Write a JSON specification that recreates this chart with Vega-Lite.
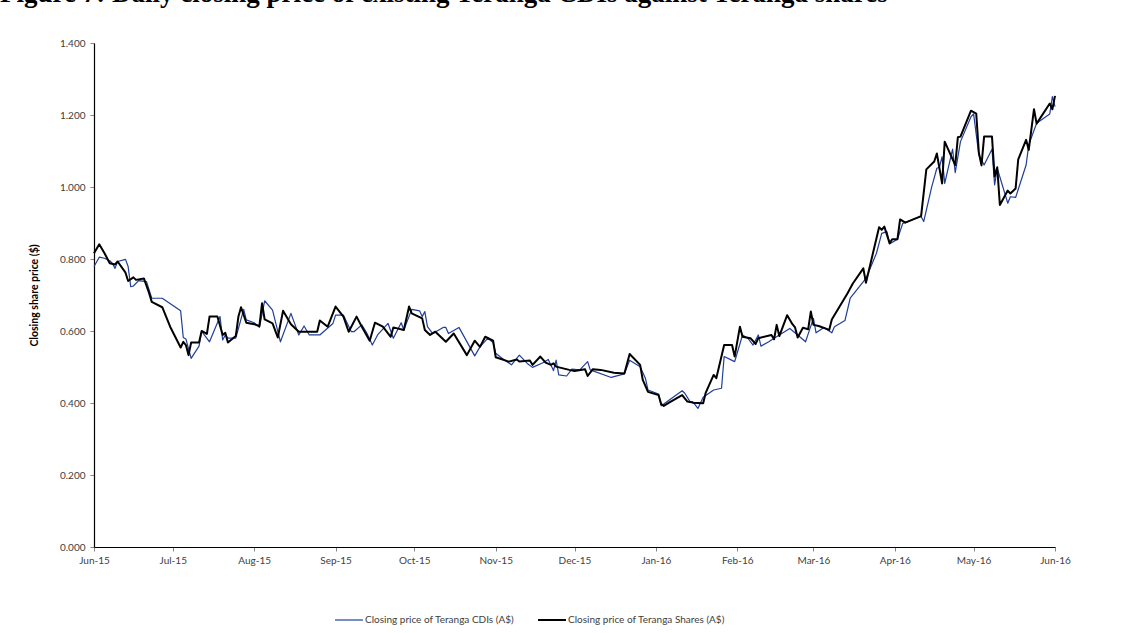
{
  "$schema": "https://vega.github.io/schema/vega-lite/v6.json",
  "autosize": {"type": "none"},
  "width": 961,
  "height": 504,
  "padding": {"left": 94, "top": 43, "right": 80, "bottom": 86},
  "background": "white",
  "title": {
    "text": "Figure 7: Daily closing price of existing Teranga CDIs against Teranga shares",
    "anchor": "start",
    "frame": "group",
    "orient": "top",
    "baseline": "alphabetic",
    "offset": 30,
    "dx": -94,
    "dy": 21,
    "font": "Liberation Serif",
    "fontSize": 27,
    "fontWeight": "bold",
    "color": "#000000"
  },
  "datasets": {
    "prices": [
      {"date": "2015-06-01", "series": "Closing price of Teranga CDIs (A$)", "price": 0.779},
      {"date": "2015-06-03", "series": "Closing price of Teranga CDIs (A$)", "price": 0.805},
      {"date": "2015-06-05", "series": "Closing price of Teranga CDIs (A$)", "price": 0.802},
      {"date": "2015-06-07", "series": "Closing price of Teranga CDIs (A$)", "price": 0.795},
      {"date": "2015-06-08", "series": "Closing price of Teranga CDIs (A$)", "price": 0.788},
      {"date": "2015-06-09", "series": "Closing price of Teranga CDIs (A$)", "price": 0.774},
      {"date": "2015-06-10", "series": "Closing price of Teranga CDIs (A$)", "price": 0.793},
      {"date": "2015-06-13", "series": "Closing price of Teranga CDIs (A$)", "price": 0.799},
      {"date": "2015-06-14", "series": "Closing price of Teranga CDIs (A$)", "price": 0.779},
      {"date": "2015-06-15", "series": "Closing price of Teranga CDIs (A$)", "price": 0.723},
      {"date": "2015-06-16", "series": "Closing price of Teranga CDIs (A$)", "price": 0.725},
      {"date": "2015-06-18", "series": "Closing price of Teranga CDIs (A$)", "price": 0.740},
      {"date": "2015-06-21", "series": "Closing price of Teranga CDIs (A$)", "price": 0.737},
      {"date": "2015-06-23", "series": "Closing price of Teranga CDIs (A$)", "price": 0.691},
      {"date": "2015-06-27", "series": "Closing price of Teranga CDIs (A$)", "price": 0.691},
      {"date": "2015-07-04", "series": "Closing price of Teranga CDIs (A$)", "price": 0.656},
      {"date": "2015-07-05", "series": "Closing price of Teranga CDIs (A$)", "price": 0.582},
      {"date": "2015-07-06", "series": "Closing price of Teranga CDIs (A$)", "price": 0.578},
      {"date": "2015-07-08", "series": "Closing price of Teranga CDIs (A$)", "price": 0.524},
      {"date": "2015-07-11", "series": "Closing price of Teranga CDIs (A$)", "price": 0.558},
      {"date": "2015-07-12", "series": "Closing price of Teranga CDIs (A$)", "price": 0.600},
      {"date": "2015-07-13", "series": "Closing price of Teranga CDIs (A$)", "price": 0.589},
      {"date": "2015-07-15", "series": "Closing price of Teranga CDIs (A$)", "price": 0.570},
      {"date": "2015-07-19", "series": "Closing price of Teranga CDIs (A$)", "price": 0.640},
      {"date": "2015-07-20", "series": "Closing price of Teranga CDIs (A$)", "price": 0.575},
      {"date": "2015-07-21", "series": "Closing price of Teranga CDIs (A$)", "price": 0.589},
      {"date": "2015-07-22", "series": "Closing price of Teranga CDIs (A$)", "price": 0.580},
      {"date": "2015-07-25", "series": "Closing price of Teranga CDIs (A$)", "price": 0.580},
      {"date": "2015-07-28", "series": "Closing price of Teranga CDIs (A$)", "price": 0.660},
      {"date": "2015-07-29", "series": "Closing price of Teranga CDIs (A$)", "price": 0.631},
      {"date": "2015-08-01", "series": "Closing price of Teranga CDIs (A$)", "price": 0.623},
      {"date": "2015-08-03", "series": "Closing price of Teranga CDIs (A$)", "price": 0.610},
      {"date": "2015-08-05", "series": "Closing price of Teranga CDIs (A$)", "price": 0.684},
      {"date": "2015-08-08", "series": "Closing price of Teranga CDIs (A$)", "price": 0.658},
      {"date": "2015-08-11", "series": "Closing price of Teranga CDIs (A$)", "price": 0.570},
      {"date": "2015-08-15", "series": "Closing price of Teranga CDIs (A$)", "price": 0.649},
      {"date": "2015-08-18", "series": "Closing price of Teranga CDIs (A$)", "price": 0.589},
      {"date": "2015-08-20", "series": "Closing price of Teranga CDIs (A$)", "price": 0.614},
      {"date": "2015-08-22", "series": "Closing price of Teranga CDIs (A$)", "price": 0.589},
      {"date": "2015-08-26", "series": "Closing price of Teranga CDIs (A$)", "price": 0.589},
      {"date": "2015-08-31", "series": "Closing price of Teranga CDIs (A$)", "price": 0.621},
      {"date": "2015-09-01", "series": "Closing price of Teranga CDIs (A$)", "price": 0.644},
      {"date": "2015-09-04", "series": "Closing price of Teranga CDIs (A$)", "price": 0.644},
      {"date": "2015-09-07", "series": "Closing price of Teranga CDIs (A$)", "price": 0.598},
      {"date": "2015-09-08", "series": "Closing price of Teranga CDIs (A$)", "price": 0.598},
      {"date": "2015-09-11", "series": "Closing price of Teranga CDIs (A$)", "price": 0.617},
      {"date": "2015-09-13", "series": "Closing price of Teranga CDIs (A$)", "price": 0.593},
      {"date": "2015-09-15", "series": "Closing price of Teranga CDIs (A$)", "price": 0.561},
      {"date": "2015-09-17", "series": "Closing price of Teranga CDIs (A$)", "price": 0.589},
      {"date": "2015-09-21", "series": "Closing price of Teranga CDIs (A$)", "price": 0.621},
      {"date": "2015-09-23", "series": "Closing price of Teranga CDIs (A$)", "price": 0.580},
      {"date": "2015-09-26", "series": "Closing price of Teranga CDIs (A$)", "price": 0.623},
      {"date": "2015-09-27", "series": "Closing price of Teranga CDIs (A$)", "price": 0.603},
      {"date": "2015-09-30", "series": "Closing price of Teranga CDIs (A$)", "price": 0.660},
      {"date": "2015-10-03", "series": "Closing price of Teranga CDIs (A$)", "price": 0.656},
      {"date": "2015-10-04", "series": "Closing price of Teranga CDIs (A$)", "price": 0.640},
      {"date": "2015-10-05", "series": "Closing price of Teranga CDIs (A$)", "price": 0.654},
      {"date": "2015-10-06", "series": "Closing price of Teranga CDIs (A$)", "price": 0.612},
      {"date": "2015-10-08", "series": "Closing price of Teranga CDIs (A$)", "price": 0.593},
      {"date": "2015-10-12", "series": "Closing price of Teranga CDIs (A$)", "price": 0.610},
      {"date": "2015-10-13", "series": "Closing price of Teranga CDIs (A$)", "price": 0.610},
      {"date": "2015-10-14", "series": "Closing price of Teranga CDIs (A$)", "price": 0.593},
      {"date": "2015-10-18", "series": "Closing price of Teranga CDIs (A$)", "price": 0.610},
      {"date": "2015-10-24", "series": "Closing price of Teranga CDIs (A$)", "price": 0.531},
      {"date": "2015-10-26", "series": "Closing price of Teranga CDIs (A$)", "price": 0.556},
      {"date": "2015-10-29", "series": "Closing price of Teranga CDIs (A$)", "price": 0.580},
      {"date": "2015-10-31", "series": "Closing price of Teranga CDIs (A$)", "price": 0.568},
      {"date": "2015-11-01", "series": "Closing price of Teranga CDIs (A$)", "price": 0.538},
      {"date": "2015-11-04", "series": "Closing price of Teranga CDIs (A$)", "price": 0.521},
      {"date": "2015-11-07", "series": "Closing price of Teranga CDIs (A$)", "price": 0.506},
      {"date": "2015-11-10", "series": "Closing price of Teranga CDIs (A$)", "price": 0.533},
      {"date": "2015-11-13", "series": "Closing price of Teranga CDIs (A$)", "price": 0.510},
      {"date": "2015-11-15", "series": "Closing price of Teranga CDIs (A$)", "price": 0.499},
      {"date": "2015-11-19", "series": "Closing price of Teranga CDIs (A$)", "price": 0.512},
      {"date": "2015-11-21", "series": "Closing price of Teranga CDIs (A$)", "price": 0.521},
      {"date": "2015-11-23", "series": "Closing price of Teranga CDIs (A$)", "price": 0.490},
      {"date": "2015-11-24", "series": "Closing price of Teranga CDIs (A$)", "price": 0.519},
      {"date": "2015-11-25", "series": "Closing price of Teranga CDIs (A$)", "price": 0.478},
      {"date": "2015-11-28", "series": "Closing price of Teranga CDIs (A$)", "price": 0.475},
      {"date": "2015-11-30", "series": "Closing price of Teranga CDIs (A$)", "price": 0.494},
      {"date": "2015-12-03", "series": "Closing price of Teranga CDIs (A$)", "price": 0.492},
      {"date": "2015-12-06", "series": "Closing price of Teranga CDIs (A$)", "price": 0.515},
      {"date": "2015-12-07", "series": "Closing price of Teranga CDIs (A$)", "price": 0.492},
      {"date": "2015-12-15", "series": "Closing price of Teranga CDIs (A$)", "price": 0.471},
      {"date": "2015-12-20", "series": "Closing price of Teranga CDIs (A$)", "price": 0.481},
      {"date": "2015-12-22", "series": "Closing price of Teranga CDIs (A$)", "price": 0.519},
      {"date": "2015-12-26", "series": "Closing price of Teranga CDIs (A$)", "price": 0.501},
      {"date": "2015-12-28", "series": "Closing price of Teranga CDIs (A$)", "price": 0.469},
      {"date": "2015-12-29", "series": "Closing price of Teranga CDIs (A$)", "price": 0.436},
      {"date": "2016-01-02", "series": "Closing price of Teranga CDIs (A$)", "price": 0.425},
      {"date": "2016-01-03", "series": "Closing price of Teranga CDIs (A$)", "price": 0.392},
      {"date": "2016-01-04", "series": "Closing price of Teranga CDIs (A$)", "price": 0.397},
      {"date": "2016-01-11", "series": "Closing price of Teranga CDIs (A$)", "price": 0.434},
      {"date": "2016-01-12", "series": "Closing price of Teranga CDIs (A$)", "price": 0.427},
      {"date": "2016-01-14", "series": "Closing price of Teranga CDIs (A$)", "price": 0.404},
      {"date": "2016-01-15", "series": "Closing price of Teranga CDIs (A$)", "price": 0.404},
      {"date": "2016-01-17", "series": "Closing price of Teranga CDIs (A$)", "price": 0.385},
      {"date": "2016-01-19", "series": "Closing price of Teranga CDIs (A$)", "price": 0.416},
      {"date": "2016-01-23", "series": "Closing price of Teranga CDIs (A$)", "price": 0.436},
      {"date": "2016-01-26", "series": "Closing price of Teranga CDIs (A$)", "price": 0.441},
      {"date": "2016-01-27", "series": "Closing price of Teranga CDIs (A$)", "price": 0.529},
      {"date": "2016-01-31", "series": "Closing price of Teranga CDIs (A$)", "price": 0.515},
      {"date": "2016-02-03", "series": "Closing price of Teranga CDIs (A$)", "price": 0.589},
      {"date": "2016-02-05", "series": "Closing price of Teranga CDIs (A$)", "price": 0.580},
      {"date": "2016-02-07", "series": "Closing price of Teranga CDIs (A$)", "price": 0.561},
      {"date": "2016-02-09", "series": "Closing price of Teranga CDIs (A$)", "price": 0.589},
      {"date": "2016-02-10", "series": "Closing price of Teranga CDIs (A$)", "price": 0.558},
      {"date": "2016-02-13", "series": "Closing price of Teranga CDIs (A$)", "price": 0.570},
      {"date": "2016-02-15", "series": "Closing price of Teranga CDIs (A$)", "price": 0.580},
      {"date": "2016-02-17", "series": "Closing price of Teranga CDIs (A$)", "price": 0.589},
      {"date": "2016-02-21", "series": "Closing price of Teranga CDIs (A$)", "price": 0.607},
      {"date": "2016-02-24", "series": "Closing price of Teranga CDIs (A$)", "price": 0.589},
      {"date": "2016-02-27", "series": "Closing price of Teranga CDIs (A$)", "price": 0.570},
      {"date": "2016-02-28", "series": "Closing price of Teranga CDIs (A$)", "price": 0.592},
      {"date": "2016-03-01", "series": "Closing price of Teranga CDIs (A$)", "price": 0.635},
      {"date": "2016-03-02", "series": "Closing price of Teranga CDIs (A$)", "price": 0.595},
      {"date": "2016-03-05", "series": "Closing price of Teranga CDIs (A$)", "price": 0.610},
      {"date": "2016-03-08", "series": "Closing price of Teranga CDIs (A$)", "price": 0.595},
      {"date": "2016-03-09", "series": "Closing price of Teranga CDIs (A$)", "price": 0.612},
      {"date": "2016-03-13", "series": "Closing price of Teranga CDIs (A$)", "price": 0.629},
      {"date": "2016-03-15", "series": "Closing price of Teranga CDIs (A$)", "price": 0.691},
      {"date": "2016-03-21", "series": "Closing price of Teranga CDIs (A$)", "price": 0.746},
      {"date": "2016-03-25", "series": "Closing price of Teranga CDIs (A$)", "price": 0.816},
      {"date": "2016-03-27", "series": "Closing price of Teranga CDIs (A$)", "price": 0.871},
      {"date": "2016-03-29", "series": "Closing price of Teranga CDIs (A$)", "price": 0.876},
      {"date": "2016-03-30", "series": "Closing price of Teranga CDIs (A$)", "price": 0.842},
      {"date": "2016-04-02", "series": "Closing price of Teranga CDIs (A$)", "price": 0.855},
      {"date": "2016-04-04", "series": "Closing price of Teranga CDIs (A$)", "price": 0.899},
      {"date": "2016-04-11", "series": "Closing price of Teranga CDIs (A$)", "price": 0.918},
      {"date": "2016-04-12", "series": "Closing price of Teranga CDIs (A$)", "price": 0.904},
      {"date": "2016-04-15", "series": "Closing price of Teranga CDIs (A$)", "price": 0.999},
      {"date": "2016-04-17", "series": "Closing price of Teranga CDIs (A$)", "price": 1.052},
      {"date": "2016-04-18", "series": "Closing price of Teranga CDIs (A$)", "price": 1.055},
      {"date": "2016-04-19", "series": "Closing price of Teranga CDIs (A$)", "price": 1.084},
      {"date": "2016-04-20", "series": "Closing price of Teranga CDIs (A$)", "price": 1.010},
      {"date": "2016-04-23", "series": "Closing price of Teranga CDIs (A$)", "price": 1.105},
      {"date": "2016-04-24", "series": "Closing price of Teranga CDIs (A$)", "price": 1.040},
      {"date": "2016-04-26", "series": "Closing price of Teranga CDIs (A$)", "price": 1.126},
      {"date": "2016-04-30", "series": "Closing price of Teranga CDIs (A$)", "price": 1.195},
      {"date": "2016-05-01", "series": "Closing price of Teranga CDIs (A$)", "price": 1.203},
      {"date": "2016-05-03", "series": "Closing price of Teranga CDIs (A$)", "price": 1.089},
      {"date": "2016-05-05", "series": "Closing price of Teranga CDIs (A$)", "price": 1.061},
      {"date": "2016-05-08", "series": "Closing price of Teranga CDIs (A$)", "price": 1.105},
      {"date": "2016-05-09", "series": "Closing price of Teranga CDIs (A$)", "price": 1.006},
      {"date": "2016-05-10", "series": "Closing price of Teranga CDIs (A$)", "price": 1.052},
      {"date": "2016-05-14", "series": "Closing price of Teranga CDIs (A$)", "price": 0.955},
      {"date": "2016-05-15", "series": "Closing price of Teranga CDIs (A$)", "price": 0.973},
      {"date": "2016-05-17", "series": "Closing price of Teranga CDIs (A$)", "price": 0.971},
      {"date": "2016-05-21", "series": "Closing price of Teranga CDIs (A$)", "price": 1.061},
      {"date": "2016-05-22", "series": "Closing price of Teranga CDIs (A$)", "price": 1.117},
      {"date": "2016-05-25", "series": "Closing price of Teranga CDIs (A$)", "price": 1.177},
      {"date": "2016-05-30", "series": "Closing price of Teranga CDIs (A$)", "price": 1.203},
      {"date": "2016-05-31", "series": "Closing price of Teranga CDIs (A$)", "price": 1.251},
      {"date": "2016-06-01", "series": "Closing price of Teranga CDIs (A$)", "price": 1.223},

      {"date": "2015-06-01", "series": "Closing price of Teranga Shares (A$)", "price": 0.816},
      {"date": "2015-06-03", "series": "Closing price of Teranga Shares (A$)", "price": 0.841},
      {"date": "2015-06-05", "series": "Closing price of Teranga Shares (A$)", "price": 0.816},
      {"date": "2015-06-07", "series": "Closing price of Teranga Shares (A$)", "price": 0.788},
      {"date": "2015-06-09", "series": "Closing price of Teranga Shares (A$)", "price": 0.785},
      {"date": "2015-06-10", "series": "Closing price of Teranga Shares (A$)", "price": 0.793},
      {"date": "2015-06-13", "series": "Closing price of Teranga Shares (A$)", "price": 0.762},
      {"date": "2015-06-14", "series": "Closing price of Teranga Shares (A$)", "price": 0.739},
      {"date": "2015-06-16", "series": "Closing price of Teranga Shares (A$)", "price": 0.749},
      {"date": "2015-06-17", "series": "Closing price of Teranga Shares (A$)", "price": 0.742},
      {"date": "2015-06-20", "series": "Closing price of Teranga Shares (A$)", "price": 0.746},
      {"date": "2015-06-22", "series": "Closing price of Teranga Shares (A$)", "price": 0.705},
      {"date": "2015-06-23", "series": "Closing price of Teranga Shares (A$)", "price": 0.681},
      {"date": "2015-06-27", "series": "Closing price of Teranga Shares (A$)", "price": 0.666},
      {"date": "2015-06-30", "series": "Closing price of Teranga Shares (A$)", "price": 0.612},
      {"date": "2015-07-04", "series": "Closing price of Teranga Shares (A$)", "price": 0.554},
      {"date": "2015-07-05", "series": "Closing price of Teranga Shares (A$)", "price": 0.570},
      {"date": "2015-07-06", "series": "Closing price of Teranga Shares (A$)", "price": 0.561},
      {"date": "2015-07-07", "series": "Closing price of Teranga Shares (A$)", "price": 0.533},
      {"date": "2015-07-08", "series": "Closing price of Teranga Shares (A$)", "price": 0.568},
      {"date": "2015-07-11", "series": "Closing price of Teranga Shares (A$)", "price": 0.568},
      {"date": "2015-07-12", "series": "Closing price of Teranga Shares (A$)", "price": 0.600},
      {"date": "2015-07-14", "series": "Closing price of Teranga Shares (A$)", "price": 0.592},
      {"date": "2015-07-15", "series": "Closing price of Teranga Shares (A$)", "price": 0.640},
      {"date": "2015-07-18", "series": "Closing price of Teranga Shares (A$)", "price": 0.640},
      {"date": "2015-07-20", "series": "Closing price of Teranga Shares (A$)", "price": 0.589},
      {"date": "2015-07-21", "series": "Closing price of Teranga Shares (A$)", "price": 0.595},
      {"date": "2015-07-22", "series": "Closing price of Teranga Shares (A$)", "price": 0.568},
      {"date": "2015-07-25", "series": "Closing price of Teranga Shares (A$)", "price": 0.586},
      {"date": "2015-07-26", "series": "Closing price of Teranga Shares (A$)", "price": 0.640},
      {"date": "2015-07-27", "series": "Closing price of Teranga Shares (A$)", "price": 0.666},
      {"date": "2015-07-29", "series": "Closing price of Teranga Shares (A$)", "price": 0.623},
      {"date": "2015-08-01", "series": "Closing price of Teranga Shares (A$)", "price": 0.619},
      {"date": "2015-08-03", "series": "Closing price of Teranga Shares (A$)", "price": 0.614},
      {"date": "2015-08-04", "series": "Closing price of Teranga Shares (A$)", "price": 0.677},
      {"date": "2015-08-05", "series": "Closing price of Teranga Shares (A$)", "price": 0.632},
      {"date": "2015-08-08", "series": "Closing price of Teranga Shares (A$)", "price": 0.621},
      {"date": "2015-08-10", "series": "Closing price of Teranga Shares (A$)", "price": 0.582},
      {"date": "2015-08-12", "series": "Closing price of Teranga Shares (A$)", "price": 0.656},
      {"date": "2015-08-15", "series": "Closing price of Teranga Shares (A$)", "price": 0.619},
      {"date": "2015-08-18", "series": "Closing price of Teranga Shares (A$)", "price": 0.598},
      {"date": "2015-08-25", "series": "Closing price of Teranga Shares (A$)", "price": 0.598},
      {"date": "2015-08-26", "series": "Closing price of Teranga Shares (A$)", "price": 0.629},
      {"date": "2015-08-29", "series": "Closing price of Teranga Shares (A$)", "price": 0.612},
      {"date": "2015-09-01", "series": "Closing price of Teranga Shares (A$)", "price": 0.668},
      {"date": "2015-09-04", "series": "Closing price of Teranga Shares (A$)", "price": 0.640},
      {"date": "2015-09-06", "series": "Closing price of Teranga Shares (A$)", "price": 0.598},
      {"date": "2015-09-09", "series": "Closing price of Teranga Shares (A$)", "price": 0.640},
      {"date": "2015-09-11", "series": "Closing price of Teranga Shares (A$)", "price": 0.612},
      {"date": "2015-09-14", "series": "Closing price of Teranga Shares (A$)", "price": 0.573},
      {"date": "2015-09-16", "series": "Closing price of Teranga Shares (A$)", "price": 0.623},
      {"date": "2015-09-19", "series": "Closing price of Teranga Shares (A$)", "price": 0.612},
      {"date": "2015-09-22", "series": "Closing price of Teranga Shares (A$)", "price": 0.584},
      {"date": "2015-09-23", "series": "Closing price of Teranga Shares (A$)", "price": 0.610},
      {"date": "2015-09-27", "series": "Closing price of Teranga Shares (A$)", "price": 0.603},
      {"date": "2015-09-29", "series": "Closing price of Teranga Shares (A$)", "price": 0.668},
      {"date": "2015-09-30", "series": "Closing price of Teranga Shares (A$)", "price": 0.649},
      {"date": "2015-10-04", "series": "Closing price of Teranga Shares (A$)", "price": 0.635},
      {"date": "2015-10-05", "series": "Closing price of Teranga Shares (A$)", "price": 0.603},
      {"date": "2015-10-07", "series": "Closing price of Teranga Shares (A$)", "price": 0.589},
      {"date": "2015-10-09", "series": "Closing price of Teranga Shares (A$)", "price": 0.598},
      {"date": "2015-10-13", "series": "Closing price of Teranga Shares (A$)", "price": 0.570},
      {"date": "2015-10-16", "series": "Closing price of Teranga Shares (A$)", "price": 0.593},
      {"date": "2015-10-21", "series": "Closing price of Teranga Shares (A$)", "price": 0.533},
      {"date": "2015-10-24", "series": "Closing price of Teranga Shares (A$)", "price": 0.573},
      {"date": "2015-10-26", "series": "Closing price of Teranga Shares (A$)", "price": 0.556},
      {"date": "2015-10-28", "series": "Closing price of Teranga Shares (A$)", "price": 0.584},
      {"date": "2015-10-31", "series": "Closing price of Teranga Shares (A$)", "price": 0.573},
      {"date": "2015-11-01", "series": "Closing price of Teranga Shares (A$)", "price": 0.527},
      {"date": "2015-11-06", "series": "Closing price of Teranga Shares (A$)", "price": 0.515},
      {"date": "2015-11-09", "series": "Closing price of Teranga Shares (A$)", "price": 0.521},
      {"date": "2015-11-10", "series": "Closing price of Teranga Shares (A$)", "price": 0.515},
      {"date": "2015-11-14", "series": "Closing price of Teranga Shares (A$)", "price": 0.518},
      {"date": "2015-11-15", "series": "Closing price of Teranga Shares (A$)", "price": 0.506},
      {"date": "2015-11-18", "series": "Closing price of Teranga Shares (A$)", "price": 0.529},
      {"date": "2015-11-20", "series": "Closing price of Teranga Shares (A$)", "price": 0.512},
      {"date": "2015-11-22", "series": "Closing price of Teranga Shares (A$)", "price": 0.506},
      {"date": "2015-11-23", "series": "Closing price of Teranga Shares (A$)", "price": 0.510},
      {"date": "2015-11-24", "series": "Closing price of Teranga Shares (A$)", "price": 0.501},
      {"date": "2015-11-29", "series": "Closing price of Teranga Shares (A$)", "price": 0.492},
      {"date": "2015-12-01", "series": "Closing price of Teranga Shares (A$)", "price": 0.489},
      {"date": "2015-12-05", "series": "Closing price of Teranga Shares (A$)", "price": 0.494},
      {"date": "2015-12-06", "series": "Closing price of Teranga Shares (A$)", "price": 0.475},
      {"date": "2015-12-08", "series": "Closing price of Teranga Shares (A$)", "price": 0.494},
      {"date": "2015-12-11", "series": "Closing price of Teranga Shares (A$)", "price": 0.492},
      {"date": "2015-12-16", "series": "Closing price of Teranga Shares (A$)", "price": 0.484},
      {"date": "2015-12-20", "series": "Closing price of Teranga Shares (A$)", "price": 0.482},
      {"date": "2015-12-22", "series": "Closing price of Teranga Shares (A$)", "price": 0.536},
      {"date": "2015-12-26", "series": "Closing price of Teranga Shares (A$)", "price": 0.506},
      {"date": "2015-12-27", "series": "Closing price of Teranga Shares (A$)", "price": 0.464},
      {"date": "2015-12-29", "series": "Closing price of Teranga Shares (A$)", "price": 0.431},
      {"date": "2016-01-02", "series": "Closing price of Teranga Shares (A$)", "price": 0.422},
      {"date": "2016-01-03", "series": "Closing price of Teranga Shares (A$)", "price": 0.397},
      {"date": "2016-01-04", "series": "Closing price of Teranga Shares (A$)", "price": 0.392},
      {"date": "2016-01-06", "series": "Closing price of Teranga Shares (A$)", "price": 0.401},
      {"date": "2016-01-10", "series": "Closing price of Teranga Shares (A$)", "price": 0.418},
      {"date": "2016-01-11", "series": "Closing price of Teranga Shares (A$)", "price": 0.422},
      {"date": "2016-01-13", "series": "Closing price of Teranga Shares (A$)", "price": 0.404},
      {"date": "2016-01-15", "series": "Closing price of Teranga Shares (A$)", "price": 0.401},
      {"date": "2016-01-19", "series": "Closing price of Teranga Shares (A$)", "price": 0.399},
      {"date": "2016-01-20", "series": "Closing price of Teranga Shares (A$)", "price": 0.429},
      {"date": "2016-01-23", "series": "Closing price of Teranga Shares (A$)", "price": 0.478},
      {"date": "2016-01-24", "series": "Closing price of Teranga Shares (A$)", "price": 0.469},
      {"date": "2016-01-27", "series": "Closing price of Teranga Shares (A$)", "price": 0.561},
      {"date": "2016-01-30", "series": "Closing price of Teranga Shares (A$)", "price": 0.561},
      {"date": "2016-01-31", "series": "Closing price of Teranga Shares (A$)", "price": 0.529},
      {"date": "2016-02-02", "series": "Closing price of Teranga Shares (A$)", "price": 0.612},
      {"date": "2016-02-03", "series": "Closing price of Teranga Shares (A$)", "price": 0.584},
      {"date": "2016-02-06", "series": "Closing price of Teranga Shares (A$)", "price": 0.580},
      {"date": "2016-02-08", "series": "Closing price of Teranga Shares (A$)", "price": 0.564},
      {"date": "2016-02-09", "series": "Closing price of Teranga Shares (A$)", "price": 0.580},
      {"date": "2016-02-14", "series": "Closing price of Teranga Shares (A$)", "price": 0.589},
      {"date": "2016-02-15", "series": "Closing price of Teranga Shares (A$)", "price": 0.577},
      {"date": "2016-02-16", "series": "Closing price of Teranga Shares (A$)", "price": 0.617},
      {"date": "2016-02-17", "series": "Closing price of Teranga Shares (A$)", "price": 0.586},
      {"date": "2016-02-20", "series": "Closing price of Teranga Shares (A$)", "price": 0.644},
      {"date": "2016-02-22", "series": "Closing price of Teranga Shares (A$)", "price": 0.619},
      {"date": "2016-02-23", "series": "Closing price of Teranga Shares (A$)", "price": 0.610},
      {"date": "2016-02-24", "series": "Closing price of Teranga Shares (A$)", "price": 0.582},
      {"date": "2016-02-26", "series": "Closing price of Teranga Shares (A$)", "price": 0.609},
      {"date": "2016-02-28", "series": "Closing price of Teranga Shares (A$)", "price": 0.605},
      {"date": "2016-02-29", "series": "Closing price of Teranga Shares (A$)", "price": 0.654},
      {"date": "2016-03-01", "series": "Closing price of Teranga Shares (A$)", "price": 0.617},
      {"date": "2016-03-03", "series": "Closing price of Teranga Shares (A$)", "price": 0.614},
      {"date": "2016-03-07", "series": "Closing price of Teranga Shares (A$)", "price": 0.603},
      {"date": "2016-03-08", "series": "Closing price of Teranga Shares (A$)", "price": 0.632},
      {"date": "2016-03-14", "series": "Closing price of Teranga Shares (A$)", "price": 0.705},
      {"date": "2016-03-16", "series": "Closing price of Teranga Shares (A$)", "price": 0.732},
      {"date": "2016-03-20", "series": "Closing price of Teranga Shares (A$)", "price": 0.774},
      {"date": "2016-03-21", "series": "Closing price of Teranga Shares (A$)", "price": 0.734},
      {"date": "2016-03-26", "series": "Closing price of Teranga Shares (A$)", "price": 0.888},
      {"date": "2016-03-27", "series": "Closing price of Teranga Shares (A$)", "price": 0.881},
      {"date": "2016-03-28", "series": "Closing price of Teranga Shares (A$)", "price": 0.890},
      {"date": "2016-03-30", "series": "Closing price of Teranga Shares (A$)", "price": 0.844},
      {"date": "2016-03-31", "series": "Closing price of Teranga Shares (A$)", "price": 0.855},
      {"date": "2016-04-02", "series": "Closing price of Teranga Shares (A$)", "price": 0.855},
      {"date": "2016-04-03", "series": "Closing price of Teranga Shares (A$)", "price": 0.910},
      {"date": "2016-04-05", "series": "Closing price of Teranga Shares (A$)", "price": 0.901},
      {"date": "2016-04-11", "series": "Closing price of Teranga Shares (A$)", "price": 0.919},
      {"date": "2016-04-13", "series": "Closing price of Teranga Shares (A$)", "price": 1.049},
      {"date": "2016-04-16", "series": "Closing price of Teranga Shares (A$)", "price": 1.071},
      {"date": "2016-04-17", "series": "Closing price of Teranga Shares (A$)", "price": 1.093},
      {"date": "2016-04-19", "series": "Closing price of Teranga Shares (A$)", "price": 1.010},
      {"date": "2016-04-20", "series": "Closing price of Teranga Shares (A$)", "price": 1.126},
      {"date": "2016-04-24", "series": "Closing price of Teranga Shares (A$)", "price": 1.061},
      {"date": "2016-04-25", "series": "Closing price of Teranga Shares (A$)", "price": 1.138},
      {"date": "2016-04-26", "series": "Closing price of Teranga Shares (A$)", "price": 1.140},
      {"date": "2016-04-30", "series": "Closing price of Teranga Shares (A$)", "price": 1.212},
      {"date": "2016-05-02", "series": "Closing price of Teranga Shares (A$)", "price": 1.204},
      {"date": "2016-05-03", "series": "Closing price of Teranga Shares (A$)", "price": 1.095},
      {"date": "2016-05-04", "series": "Closing price of Teranga Shares (A$)", "price": 1.060},
      {"date": "2016-05-05", "series": "Closing price of Teranga Shares (A$)", "price": 1.140},
      {"date": "2016-05-08", "series": "Closing price of Teranga Shares (A$)", "price": 1.140},
      {"date": "2016-05-09", "series": "Closing price of Teranga Shares (A$)", "price": 1.029},
      {"date": "2016-05-10", "series": "Closing price of Teranga Shares (A$)", "price": 1.055},
      {"date": "2016-05-11", "series": "Closing price of Teranga Shares (A$)", "price": 0.950},
      {"date": "2016-05-14", "series": "Closing price of Teranga Shares (A$)", "price": 0.990},
      {"date": "2016-05-15", "series": "Closing price of Teranga Shares (A$)", "price": 0.982},
      {"date": "2016-05-17", "series": "Closing price of Teranga Shares (A$)", "price": 0.996},
      {"date": "2016-05-18", "series": "Closing price of Teranga Shares (A$)", "price": 1.077},
      {"date": "2016-05-21", "series": "Closing price of Teranga Shares (A$)", "price": 1.131},
      {"date": "2016-05-22", "series": "Closing price of Teranga Shares (A$)", "price": 1.103},
      {"date": "2016-05-24", "series": "Closing price of Teranga Shares (A$)", "price": 1.216},
      {"date": "2016-05-25", "series": "Closing price of Teranga Shares (A$)", "price": 1.176},
      {"date": "2016-05-30", "series": "Closing price of Teranga Shares (A$)", "price": 1.232},
      {"date": "2016-05-31", "series": "Closing price of Teranga Shares (A$)", "price": 1.216},
      {"date": "2016-06-01", "series": "Closing price of Teranga Shares (A$)", "price": 1.253}
    ]
  },
  "data": {"name": "prices"},
  "mark": {"type": "line", "strokeJoin": "round", "clip": false},
  "encoding": {
    "x": {
      "field": "date",
      "type": "temporal",
      "scale": {
        "type": "utc",
        "domain": [
          {"year": 2015, "month": 6, "date": 1, "utc": true},
          {"year": 2016, "month": 6, "date": 1, "utc": true}
        ]
      },
      "axis": {
        "title": null,
        "format": "%b-%y",
        "tickCount": {"interval": "month", "step": 1},
        "labelFlush": false,
        "labelOverlap": false,
        "grid": false,
        "domainColor": "#000000",
        "domainWidth": 1.2,
        "tickColor": "#868686",
        "tickSize": 4,
        "labelPadding": 4,
        "labelFont": "Lato",
        "labelFontSize": 10,
        "labelColor": "#404040"
      }
    },
    "y": {
      "field": "price",
      "type": "quantitative",
      "scale": {"domain": [0, 1.4], "nice": false, "zero": true},
      "axis": {
        "title": "Closing share price ($)",
        "titleFont": "Lato",
        "titleFontSize": 10.5,
        "titleFontWeight": "bold",
        "titleColor": "#000000",
        "titlePadding": 20,
        "values": [0, 0.2, 0.4, 0.6, 0.8, 1.0, 1.2, 1.4],
        "format": ".3f",
        "grid": false,
        "domainColor": "#000000",
        "domainWidth": 1.2,
        "tickColor": "#868686",
        "tickSize": 4,
        "labelPadding": 5,
        "labelFont": "Lato",
        "labelFontSize": 10,
        "labelColor": "#404040"
      }
    },
    "color": {
      "field": "series",
      "type": "nominal",
      "scale": {
        "domain": ["Closing price of Teranga CDIs (A$)", "Closing price of Teranga Shares (A$)"],
        "range": ["#1F3E99", "#000000"]
      },
      "legend": {
        "title": null,
        "orient": "none",
        "legendX": 240,
        "legendY": 562,
        "direction": "horizontal",
        "symbolType": "stroke",
        "symbolSize": 780,
        "symbolStrokeWidth": 1.6,
        "labelFont": "Lato",
        "labelFontSize": 10,
        "labelColor": "#404040",
        "labelOffset": 1,
        "columnPadding": 19
      }
    },
    "strokeWidth": {
      "field": "series",
      "type": "nominal",
      "scale": {
        "domain": ["Closing price of Teranga CDIs (A$)", "Closing price of Teranga Shares (A$)"],
        "range": [1.2, 2]
      },
      "legend": null
    }
  },
  "config": {"view": {"stroke": null}}
}
